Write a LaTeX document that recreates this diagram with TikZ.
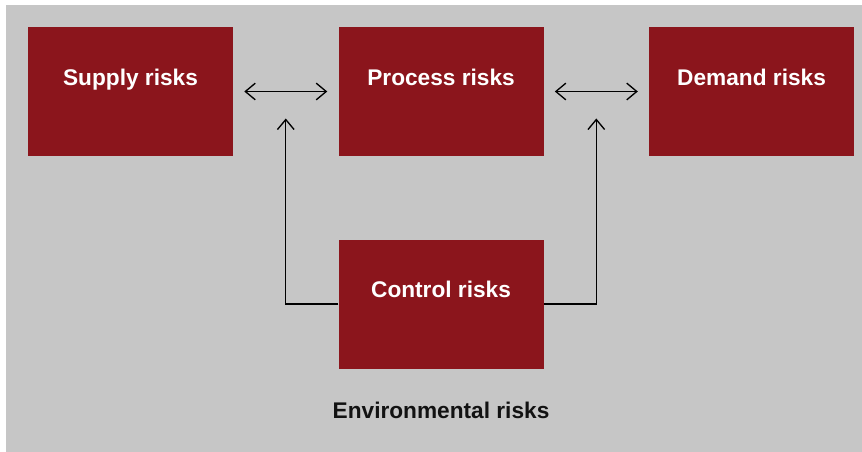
\documentclass[tikz,border=0pt]{standalone}
\usepackage{fontspec}
\setmainfont{Liberation Sans}
\usetikzlibrary{positioning, arrows.meta, calc}
\definecolor{riskred}{RGB}{139,21,28}
\definecolor{panelgray}{RGB}{198,198,198}
\tikzstyle{risk} = [rectangle, minimum width=153.75pt, minimum height=96.75pt, fill=riskred, text=white, font=\fontsize{17}{20}\selectfont\bfseries, text height=12.2pt, text depth=21.8pt, inner sep=0pt]
\tikzstyle{arrow} = [line width=1pt, ->, >={Straight Barb[length=7.5pt, width=12.5pt]}]

\begin{document}
\begin{tikzpicture}[x=0.75pt, y=-0.75pt, node distance=78.75pt]

% grey panel, white strip at left and top
\useasboundingbox (0,0) rectangle (862,452);
\fill[panelgray] (6,5) rectangle (862,452);

\node (supply) [risk] at (130.5,91.5) {Supply risks};
\node (process) [risk, right=of supply] {Process risks};
\node (demand) [risk, right=of process] {Demand risks};
\node (control) [risk, below=62.25pt of process] {Control risks};
\node (env) [below=24.75pt of control, inner sep=0pt, font=\fontsize{17}{20}\selectfont\bfseries, text=black!93] {Environmental risks};

\draw [arrow, <->, shorten <=8.25pt, shorten >=8.25pt] (supply) -- (process);
\draw [arrow, <->, shorten <=8.25pt, shorten >=8.25pt] (process) -- (demand);

\coordinate (gapleft) at ($(supply.east)!0.5!(process.west)$);
\coordinate (gapright) at ($(process.east)!0.5!(demand.west)$);
\draw [arrow, shorten >=20.25pt] (control.west) -| (gapleft);
\draw [arrow, shorten >=20.25pt] (control.east) -| (gapright);

\end{tikzpicture}
\end{document}
